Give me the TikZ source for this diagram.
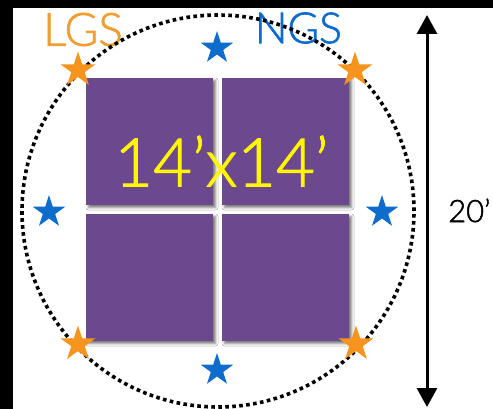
\documentclass[tikz,border=0pt]{standalone}
\usepackage{fontspec}
\setmainfont{Liberation Sans}
\newfontfamily\thinsans{Lato Light}[FakeBold=1.5]
\usetikzlibrary{shapes.geometric,arrows.meta,shadows.blur}
\definecolor{panelpurple}{RGB}{108,73,142}
\definecolor{lgsorange}{RGB}{240,158,48}
\definecolor{starorange}{RGB}{246,148,30}
\definecolor{ngsblue}{RGB}{14,108,204}
\definecolor{labelyellow}{RGB}{255,246,0}
\begin{document}
\begin{tikzpicture}[x=1pt,y=-1pt,
  panel/.style={fill=panelpurple, draw=none, minimum size=127pt, inner sep=0pt,
    blur shadow={shadow xshift=2.5pt, shadow yshift=-2.5pt, shadow blur radius=2.5pt, shadow opacity=55}},
  starmark/.style={star, star points=5, star point ratio=2.618, draw=none, inner sep=0pt, minimum size=#1},
  lgsstar/.style={starmark=37pt, fill=starorange},
  ngsstar/.style={starmark=34pt, fill=ngsblue},
  ring/.style={circle, draw=black, inner sep=0pt, minimum size=392pt, line width=3.6pt,
    dash pattern=on 3.6pt off 3.4pt},
  label/.style={inner sep=0pt, font=#1}]
  \useasboundingbox (0,0) rectangle (493,409);
  \fill[white] (0,0) rectangle (493,409);
  % dark frame edges
  \fill[black] (0,0) rectangle (493,8);
  \fill[black] (0,0) rectangle (13,409);

  % four mirror panels
  \node[panel] (p1) at (149.5,141.5) {};
  \node[panel] (p2) at (285.5,141.5) {};
  \node[panel] (p3) at (149.5,277.5) {};
  \node[panel] (p4) at (285.5,277.5) {};

  \node[label={\thinsans\fontsize{67}{67}\selectfont}, text=labelyellow] (size) at (221.5,161) {14’x14’};
  \node[label={\thinsans\fontsize{46}{46}\selectfont}, text=lgsorange] (lgs) at (83,29.5) {LGS};
  \node[label={\thinsans\fontsize{43}{43}\selectfont}, text=ngsblue] (ngs) at (298.5,28) {NGS};

  % field of view
  \node[ring] (fov) at (218,211) {};

  % guide stars
  \node[ngsstar] (n1) at (217,48) {};
  \node[ngsstar] (n2) at (49,212) {};
  \node[ngsstar] (n3) at (382,212) {};
  \node[ngsstar] (n4) at (217,370) {};
  \node[lgsstar] (l1) at (78,70) {};
  \node[lgsstar] (l2) at (355,70) {};
  \node[lgsstar] (l3) at (78,344) {};
  \node[lgsstar] (l4) at (356,344) {};

  % diameter dimension
  \coordinate (dimtop) at (427,15);
  \coordinate (dimbot) at (427,407);
  \draw[line width=3pt, {Triangle[width=20pt,length=19pt]}-{Triangle[width=20pt,length=19pt]}] (dimtop) -- (dimbot);
  \node[label={\thinsans\fontsize{31}{31}\selectfont}, anchor=west] (diam) at (448,210.5) {20’};
\end{tikzpicture}
\end{document}
